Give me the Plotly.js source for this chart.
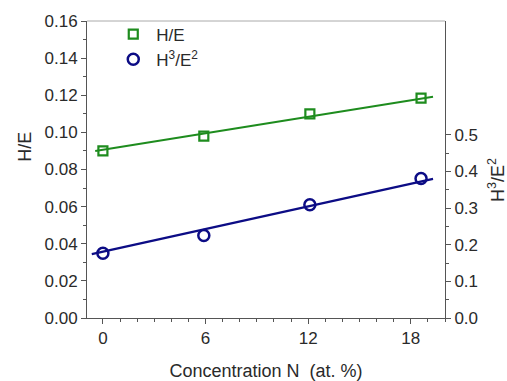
<!DOCTYPE html>
<html>
<head>
<meta charset="utf-8">
<script src="https://cdn.plot.ly/plotly-3.0.1.min.js"></script>
<style>html,body{margin:0;padding:0;background:#fff}#chart{width:507px;height:381px}</style>
</head>
<body>
<div id="chart"></div>
<script>
const concentration = [0, 5.9, 12.1, 18.6];
const hOverE = [0.090, 0.098, 0.110, 0.1184];
const h3OverE2 = [0.177, 0.225, 0.309, 0.381];
const fitX_HE = [-0.45, 19.3];
const fitY_HE = [0.0900, 0.1192];
const fitX_H3E2 = [-0.65, 19.3];
const fitY_H3E2 = [0.1745, 0.380];
const xTicks = [0, 6, 12, 18];
const yLeftTicks = [0, 0.02, 0.04, 0.06, 0.08, 0.10, 0.12, 0.14, 0.16];
const yRightTicks = [0, 0.1, 0.2, 0.3, 0.4, 0.5];
const yRightMinor = [0.05, 0.15, 0.25, 0.35, 0.45];

const green = '#1e8c1e';
const blue = '#0c0c85';
const fontFam = 'Liberation Sans, Arial, sans-serif';
const txt = '#2a2a2a';

const traces = [
  {x: fitX_HE, y: fitY_HE, mode: 'lines', line: {color: green, width: 2}, showlegend: false, hoverinfo: 'skip'},
  {x: fitX_H3E2, y: fitY_H3E2, yaxis: 'y2', mode: 'lines', line: {color: blue, width: 2.2}, showlegend: false, hoverinfo: 'skip'},
  {x: concentration, y: hOverE, name: 'H/E', mode: 'markers',
   marker: {symbol: 'square-open', size: 9, color: green, line: {width: 2.2, color: green}}},
  {x: concentration, y: h3OverE2, yaxis: 'y2', name: 'H<sup>3</sup>/E<sup>2</sup>', mode: 'markers',
   marker: {symbol: 'circle-open', size: 11, color: blue, line: {width: 2.5, color: blue}}}
];

const axisCommon = {
  showgrid: false, zeroline: false, showline: true, linecolor: '#555', linewidth: 1,
  ticks: 'outside', ticklen: 5, tickcolor: '#555', tickwidth: 1,
  tickfont: {family: fontFam, size: 17, color: txt},
  automargin: false
};

const layout = {
  width: 507, height: 381,
  paper_bgcolor: '#fff', plot_bgcolor: '#fff',
  margin: {l: 87, r: 62, t: 21, b: 63},
  font: {family: fontFam, color: txt},
  showlegend: true,
  legend: {x: 0.065, y: 1.015, xanchor: 'left', yanchor: 'top', bgcolor: 'rgba(0,0,0,0)',
           font: {family: fontFam, size: 17, color: txt}, itemwidth: 36, tracegroupgap: 0},
  xaxis: Object.assign({}, axisCommon, {
    range: [-0.93, 20], tickmode: 'array', tickvals: xTicks, ticktext: xTicks.map(String),
    minor: {dtick: 1, tick0: 0, ticks: 'outside', ticklen: 3, tickcolor: '#555'},
    title: {text: 'Concentration N\u00a0\u00a0(at. %)', font: {family: fontFam, size: 18, color: txt}, standoff: 17}
  }),
  yaxis: Object.assign({}, axisCommon, {
    range: [0, 0.16], tickmode: 'array', tickvals: yLeftTicks, ticktext: yLeftTicks.map(v => v.toFixed(2)),
    minor: {dtick: 0.01, tick0: 0, ticks: 'outside', ticklen: 3, tickcolor: '#555'}
  }),
  yaxis2: Object.assign({}, axisCommon, {
    overlaying: 'y', side: 'right', range: [0, 0.811],
    tickmode: 'array', tickvals: yRightTicks, ticktext: yRightTicks.map(v => v.toFixed(1)),
    minor: {tickmode: 'array', tickvals: yRightMinor, ticks: 'outside', ticklen: 3, tickcolor: '#555'}
  }),
  shapes: [
    {type: 'line', xref: 'paper', yref: 'paper', x0: 0, x1: 1, y0: 1, y1: 1, line: {color: '#aaa', width: 1}}
  ],
  annotations: [
    {text: 'H/E', xref: 'paper', yref: 'y', x: 0, xshift: -62, y: 0.0923,
     xanchor: 'center', yanchor: 'middle',
     textangle: -90, showarrow: false, font: {family: fontFam, size: 18, color: txt}},
    {text: 'H<sup>3</sup>/E<sup>2</sup>', xref: 'paper', yref: 'y2', x: 1, xshift: 52, y: 0.377,
     xanchor: 'center', yanchor: 'middle',
     textangle: -90, showarrow: false, font: {family: fontFam, size: 18, color: txt}}
  ]
};

Plotly.newPlot('chart', traces, layout, {displayModeBar: false, staticPlot: true});
</script>
</body>
</html>
